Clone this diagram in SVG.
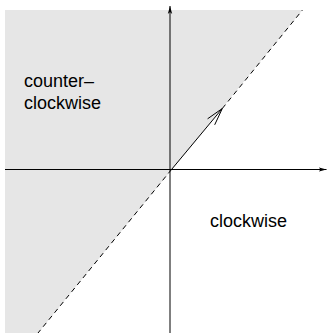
<svg xmlns="http://www.w3.org/2000/svg" width="327" height="333" viewBox="0 0 327 333">
  <style>
    .ax { stroke: #000; stroke-width: 1; fill: none; }
    .dash { stroke: #000; stroke-width: 1; fill: none; stroke-dasharray: 5 4; }
    .lbl { font-family: "Liberation Sans", Arial, sans-serif; font-size: 18px; fill: #000; }
  </style>
  <defs>
    <marker id="axhead" markerWidth="8" markerHeight="6" refX="8" refY="3" orient="auto" markerUnits="userSpaceOnUse">
      <path d="M0,0.8 L8,3 L0,5.2 L2,3 Z" fill="#000"/>
    </marker>
  </defs>
  <g id="region">
    <polygon points="5,10 302.5,10 38,333 5,333" fill="#e6e6e6"/>
  </g>
  <g id="connectors">
    <line class="ax" x1="5" y1="169.5" x2="326.5" y2="169.5" marker-end="url(#axhead)"/>
    <line class="ax" x1="170" y1="333" x2="170" y2="6" marker-end="url(#axhead)"/>
    <line class="dash" x1="222.3" y1="108.5" x2="302.5" y2="10"/>
    <line class="dash" x1="171.5" y1="169.5" x2="38" y2="333"/>
    <line class="ax" x1="171.5" y1="169.5" x2="222.3" y2="108.5"/>
    <polyline class="ax" points="207.6,118.8 222.3,108.5 214.7,124.8"/>
  </g>
  <g id="labels">
    <text class="lbl" x="24" y="87">counter–</text>
    <text class="lbl" x="24" y="108.5">clockwise</text>
    <text class="lbl" x="210" y="227">clockwise</text>
  </g>
</svg>
